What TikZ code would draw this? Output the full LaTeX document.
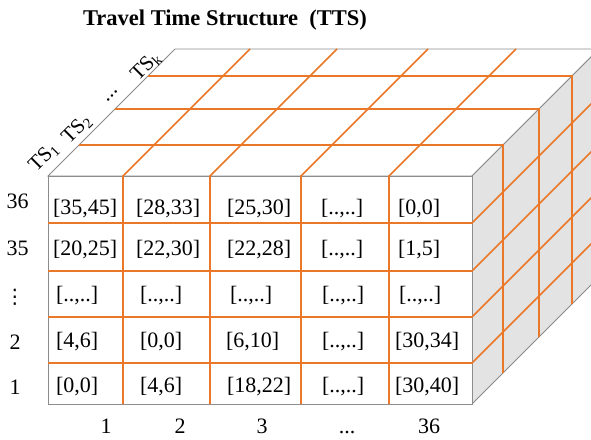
\documentclass[tikz,border=0pt]{standalone}
\usepackage{fontspec}
\setmainfont{Liberation Serif}
\newfontfamily\dotsfont{DejaVu Sans}
\definecolor{gridorange}{RGB}{234,120,40}
\definecolor{edgegray}{RGB}{140,140,140}
\definecolor{sidegray}{RGB}{227,227,227}
\begin{document}
\begin{tikzpicture}[x=1pt,y=-1pt,
  edge/.style={draw=edgegray,line width=0.9pt},
  gridline/.style={draw=gridorange,line width=1.6pt},
  lbl/.style={font=\fontsize{22}{24}\selectfont,inner sep=0pt,outer sep=0pt},
  cell/.style={lbl,anchor=base west},
  axis/.style={lbl,anchor=base},
  tslbl/.style={font=\fontsize{21}{23}\selectfont,inner sep=0pt,rotate=45},
  titlestyle/.style={font=\bfseries\fontsize{22.5}{25}\selectfont,inner sep=0pt,anchor=base}]
\clip (0,0) rectangle (591,439);
\fill[white] (0,0) rectangle (591,439);

% faces
\filldraw[edge,fill=white] (48,176) -- (472,176) -- (599,49) -- (175,49) -- cycle;
\filldraw[edge,fill=sidegray] (472,176) -- (599,49) -- (599,277) -- (472,404) -- cycle;
\filldraw[edge,fill=white] (48,176) rectangle (472,404);

% orange grid
\foreach \x in {123,210,301,389}
  \draw[gridline] (\x,404) -- (\x,176) -- ++(127,-127);
\foreach \y in {223,271,317,363}
  \draw[gridline] (48,\y) -- (472,\y) -- ++(127,-127);
\foreach \d in {31,67,100}
  \draw[gridline] (48+\d,176-\d) -- (472+\d,176-\d) -- (472+\d,404-\d);

% title
\node[titlestyle] (title) at (225,25) {Travel Time Structure\hspace{0.5em}(TTS)};

% depth labels
\node[tslbl] (ts1) at (44,157) {TS\textsubscript{1}};
\node[tslbl] (ts2) at (77,129) {TS\textsubscript{2}};
\node[tslbl] (tsdots) at (112,96) {...};
\node[tslbl] (tsk) at (146,66) {TS\textsubscript{k}};

% row labels
\node[axis] (r36) at (17.5,208) {36};
\node[axis] (r35) at (17.5,255) {35};
\node[lbl,font=\dotsfont\fontsize{20}{22}\selectfont] (rdots) at (15,297) {⋮};
\node[axis] (r2) at (15,349) {2};
\node[axis] (r1) at (15,394) {1};

% column labels
\node[axis] (k1) at (106,433) {1};
\node[axis] (k2) at (180,433) {2};
\node[axis] (k3) at (262,433) {3};
\node[axis] (kdots) at (347,433) {...};
\node[axis] (k36) at (429,433) {36};

% cells row 36
\node[cell] (a1) at (53,214) {[35,45]};
\node[cell] (a2) at (136,214) {[28,33]};
\node[cell] (a3) at (227,214) {[25,30]};
\node[cell] (a4) at (321,214) {[..,..]};
\node[cell] (a5) at (398,214) {[0,0]};
% row 35
\node[cell] (b1) at (53,255) {[20,25]};
\node[cell] (b2) at (136,255) {[22,30]};
\node[cell] (b3) at (227,255) {[22,28]};
\node[cell] (b4) at (321,255) {[..,..]};
\node[cell] (b5) at (398,255) {[1,5]};
% row dots
\node[cell] (c1) at (56,301) {[..,..]};
\node[cell] (c2) at (140,301) {[..,..]};
\node[cell] (c3) at (230,301) {[..,..]};
\node[cell] (c4) at (322,301) {[..,..]};
\node[cell] (c5) at (399,301) {[..,..]};
% row 2
\node[cell] (d1) at (56,347) {[4,6]};
\node[cell] (d2) at (140,347) {[0,0]};
\node[cell] (d3) at (226,347) {[6,10]};
\node[cell] (d4) at (322,347) {[..,..]};
\node[cell] (d5) at (395,347) {[30,34]};
% row 1
\node[cell] (e1) at (56,392) {[0,0]};
\node[cell] (e2) at (140,392) {[4,6]};
\node[cell] (e3) at (227,392) {[18,22]};
\node[cell] (e4) at (322,392) {[..,..]};
\node[cell] (e5) at (395,392) {[30,40]};
\end{tikzpicture}
\end{document}
